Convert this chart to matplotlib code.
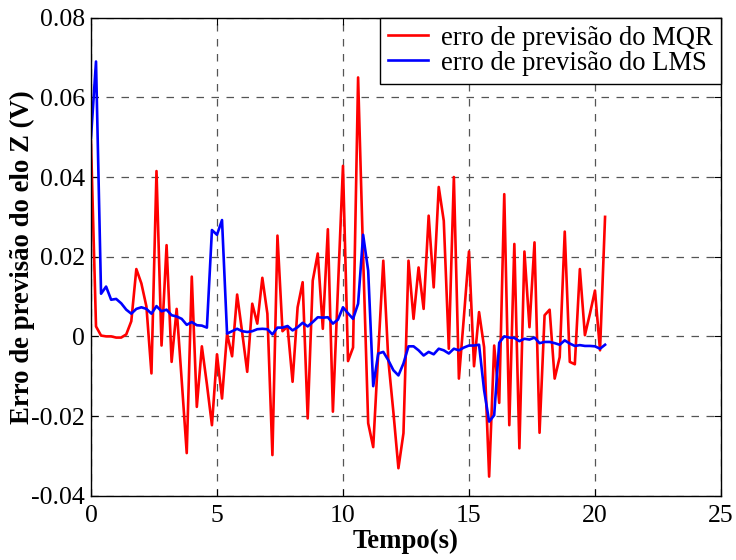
import numpy as np
import matplotlib
matplotlib.use('Agg')
import matplotlib.pyplot as plt
from matplotlib.ticker import FuncFormatter

# Constants
TICKFONT = 18.5
LEGFONT = 19.2
LBLFONT = 19.3

# sampling instants (s), 0.2 s step up to 20.4 s
tempo = np.round(np.arange(0, 20.41, 0.2), 1)

# erro de previsao do MQR (V)
erro_mqr = [0.049, 0.0025, 0.0002, 0.0, 0.0, -0.0003, -0.0003, 0.0005, 0.0038, 0.0169,
            0.0133, 0.0075, -0.0093, 0.0415, -0.0023, 0.0229, -0.0064, 0.0069, -0.011, -0.0293,
            0.015, -0.0177, -0.0025, -0.012, -0.0223, -0.0045, -0.0156, 0.0007, -0.005, 0.0105,
            0.001, -0.0089, 0.0082, 0.0032, 0.0147, 0.0057, -0.0298, 0.0253, 0.0013, 0.0025,
            -0.0114, 0.0073, 0.0136, -0.0206, 0.014, 0.0208, 0.0019, 0.0269, -0.0189, 0.012,
            0.0428, -0.0062, -0.0028, 0.065, 0.02, -0.0218, -0.0278, -0.004, 0.019, -0.006,
            -0.019, -0.0331, -0.0243, 0.019, 0.0044, 0.0173, 0.0069, 0.0303, 0.0123, 0.0375,
            0.029, -0.0031, 0.04, -0.0106, 0.005, 0.0213, -0.0075, 0.0061, -0.0027, -0.0352,
            -0.0023, -0.0167, 0.0357, -0.0223, 0.0232, -0.0281, 0.0213, 0.0023, 0.0236, -0.0242,
            0.0053, 0.0067, -0.0106, -0.0052, 0.0263, -0.0064, -0.007, 0.0169, 0.0003, 0.0057,
            0.0115, -0.0035, 0.03]

# erro de previsao do LMS (V)
erro_lms = [0.0498, 0.069, 0.0107, 0.0125, 0.0092, 0.0094, 0.0083, 0.0067, 0.0057, 0.0069,
            0.0073, 0.0069, 0.0057, 0.0076, 0.0063, 0.0067, 0.0053, 0.005, 0.0044, 0.0029,
            0.0036, 0.0028, 0.0027, 0.0022, 0.0267, 0.0255, 0.0292, 0.0007, 0.0013, 0.0019,
            0.0013, 0.0011, 0.0013, 0.0018, 0.0019, 0.0018, 0.0005, 0.0022, 0.0022, 0.0026,
            0.0015, 0.0023, 0.0034, 0.0025, 0.0036, 0.0048, 0.0047, 0.0048, 0.0032, 0.0042,
            0.0073, 0.0058, 0.0044, 0.0082, 0.0255, 0.0165, -0.0125, -0.0043, -0.0039, -0.006,
            -0.0085, -0.0098, -0.0068, -0.0025, -0.0025, -0.0035, -0.0048, -0.0039, -0.0045, -0.0031,
            -0.0035, -0.0043, -0.0031, -0.0035, -0.0028, -0.0023, -0.0023, -0.0021, -0.0135, -0.0214,
            -0.0198, -0.0016, 0.0, -0.0003, -0.0004, -0.0012, -0.0006, -0.0008, -0.0003, -0.0017,
            -0.0014, -0.0014, -0.0017, -0.0021, -0.001, -0.0018, -0.0024, -0.0022, -0.0024, -0.0024,
            -0.0025, -0.0031, -0.0021]

xticks = [0, 5, 10, 15, 20, 25]
yticks = [-0.04, -0.02, 0, 0.02, 0.04, 0.06, 0.08]

plt.rcParams['font.family'] = ['Liberation Serif', 'DejaVu Serif']

fig = plt.figure(figsize=(7.36, 5.6), dpi=100)
ax = fig.add_axes([0.1236, 0.1148, 0.856, 0.8536])

ax.plot(tempo, erro_mqr, color='red', lw=1.9, label='erro de previsão do MQR')
ax.plot(tempo, erro_lms, color='blue', lw=1.9, label='erro de previsão do LMS')

ax.set_xlim(0, 25)
ax.set_ylim(-0.04, 0.08)
ax.set_xticks(xticks)
ax.set_yticks(yticks)
ax.yaxis.set_major_formatter(FuncFormatter(lambda v, p: '0' if abs(v) < 1e-9 else ('%.2f' % v)))
ax.tick_params(direction='in', top=True, right=True, labelsize=TICKFONT, length=5)
ax.tick_params(axis='x', pad=7)
ax.tick_params(axis='y', pad=4.5)
ax.grid(True, color='#555555', linestyle=(0, (6, 6)), lw=0.9)
for sp in ax.spines.values():
    sp.set_linewidth(1.0)

ax.set_xlabel('Tempo(s)', fontsize=LBLFONT, fontweight='bold', labelpad=1)
ax.set_ylabel('Erro de previsão do elo Z (V)', fontsize=LBLFONT, fontweight='bold', labelpad=-3)

leg = ax.legend(loc='upper right', fontsize=LEGFONT, fancybox=False, framealpha=1,
                edgecolor='black', borderaxespad=0, handlelength=1.5, handletextpad=0.5,
                labelspacing=0.0, borderpad=0.3)
leg.get_frame().set_linewidth(1.0)

plt.savefig('out.png', dpi=100)
plt.close('all')
